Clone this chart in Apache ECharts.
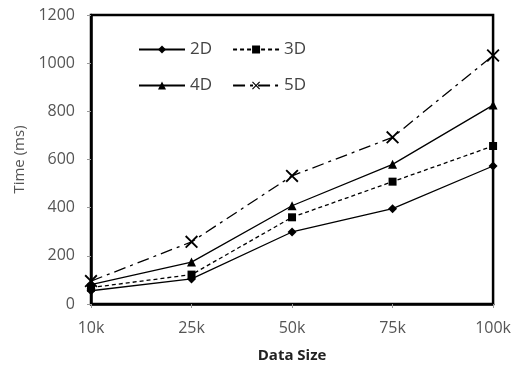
<!DOCTYPE html>
<html>
<head>
<meta charset="utf-8">
<script src="https://cdn.jsdelivr.net/npm/echarts@6/dist/echarts.min.js"></script>
<style>
  html, body { margin: 0; padding: 0; background: #fff; }
  #chart { width: 514px; height: 369px; }
</style>
</head>
<body>
<div id="chart"></div>
<script>
  const categories = ["10k", "25k", "50k", "75k", "100k"];
  const values2D = [55, 104, 299, 396, 573];
  const values3D = [68, 122, 360, 508, 656];
  const values4D = [80, 174, 408, 580, 826];
  const values5D = [95, 258, 532, 692, 1032];

  const crossPath = "path://M0,1L1,0L5,4L9,0L10,1L6,5L10,9L9,10L5,6L1,10L0,9L4,5Z";
  const fontFamily = "'Open Sans', 'Noto Sans', sans-serif";

  const chart = echarts.init(document.getElementById("chart"));

  function makeSeries(name, data, symbol, symbolSize, lineType) {
    return {
      name: name,
      type: "line",
      data: data,
      symbol: symbol,
      symbolSize: symbolSize,
      showSymbol: true,
      lineStyle: { color: "#000", width: 1.3, type: lineType },
      itemStyle: { color: "#000", borderWidth: 0 },
      emphasis: { disabled: true },
      animation: false
    };
  }

  const legendCommon = {
    left: 133,
    itemWidth: 46,
    itemHeight: 10,
    itemGap: 20,
    textStyle: { color: "#444", fontSize: 17, fontFamily: fontFamily },
    selectedMode: false
  };

  chart.setOption({
    animation: false,
    grid: {
      left: 91, right: 20, top: 15, bottom: 65,
      show: true, borderColor: "#000", borderWidth: 2.5
    },
    legend: [
      Object.assign({ top: 36, data: ["2D", "3D"] }, legendCommon),
      Object.assign({ top: 72, data: ["4D", "5D"] }, legendCommon)
    ],
    xAxis: {
      type: "category",
      data: categories,
      boundaryGap: false,
      name: "Data Size",
      nameLocation: "middle",
      nameGap: 44,
      nameTextStyle: { color: "#222", fontSize: 15, fontWeight: "bold", fontFamily: fontFamily },
      axisLine: { show: true, lineStyle: { color: "#000", width: 2.5 } },
      axisTick: { show: true, length: 4, alignWithLabel: true, lineStyle: { color: "#999" } },
      axisLabel: { color: "#555", fontSize: 16, margin: 16, fontFamily: fontFamily },
      splitLine: { show: false }
    },
    yAxis: {
      type: "value",
      min: 0,
      max: 1200,
      interval: 200,
      name: "Time (ms)",
      nameLocation: "middle",
      nameGap: 64,
      nameTextStyle: { color: "#555", fontSize: 15, fontFamily: fontFamily },
      axisLine: { show: true, lineStyle: { color: "#000", width: 2.5 } },
      axisTick: { show: true, length: 4, lineStyle: { color: "#999" } },
      axisLabel: {
        color: "#555", fontSize: 16, margin: 16, fontFamily: fontFamily,
        formatter: (v) => String(v)
      },
      splitLine: { show: false }
    },
    series: [
      makeSeries("2D", values2D, "diamond", 9, "solid"),
      makeSeries("3D", values3D, "rect", 8, [4, 3]),
      makeSeries("4D", values4D, "triangle", 9, "solid"),
      makeSeries("5D", values5D, crossPath, 13, [12, 5, 3, 5])
    ]
  });
</script>
</body>
</html>
